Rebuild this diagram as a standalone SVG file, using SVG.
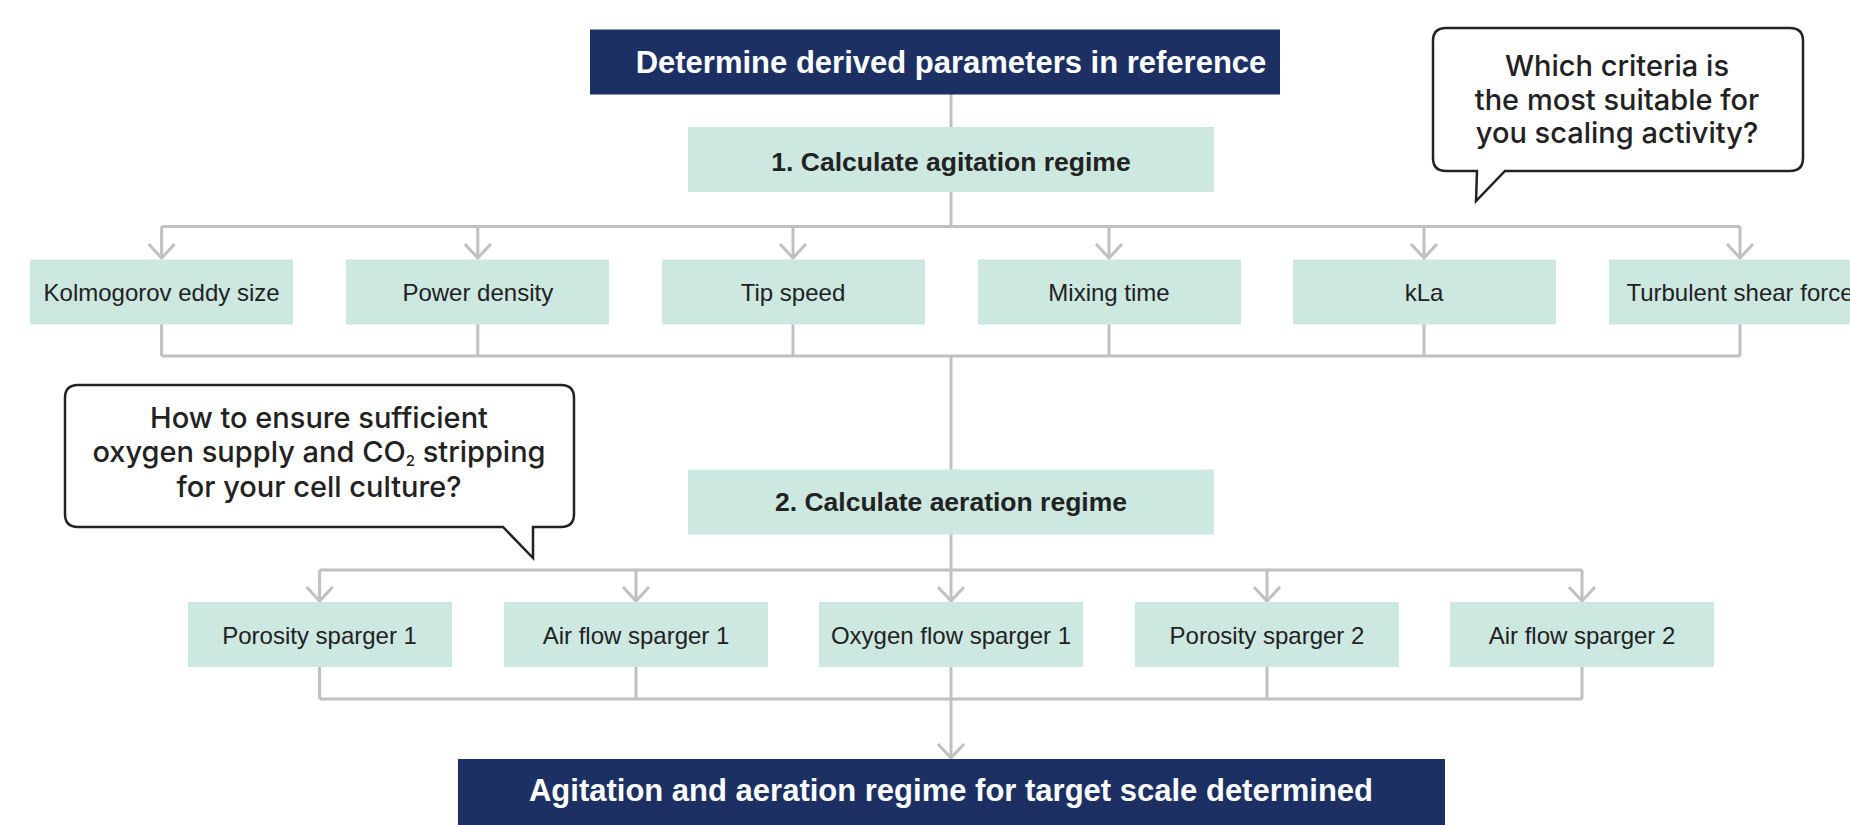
<svg xmlns="http://www.w3.org/2000/svg" width="1850" height="825" viewBox="0 0 1850 825">
<style>
.navy{fill:#1d3064}
.teal{fill:#cde7e1}
.hd{font-family:"Liberation Sans",Arial,sans-serif;font-weight:bold;font-size:31px;fill:#ffffff;text-anchor:middle}
.st{font-family:"Liberation Sans",Arial,sans-serif;font-weight:bold;font-size:26.5px;fill:#222222;text-anchor:middle}
.lb{font-family:"Liberation Sans",Arial,sans-serif;font-size:24px;fill:#222222;text-anchor:middle}
.bt{font-family:Inter,"Liberation Sans",Arial,sans-serif;font-weight:500;font-size:29px;fill:#222222;text-anchor:middle}
.bub{fill:#ffffff;stroke:#222222;stroke-width:2.5;stroke-linejoin:miter}
.cn{fill:none;stroke:#c0c0c0;stroke-width:3}
.ar{fill:none;stroke:#c0c0c0;stroke-width:3;marker-end:url(#chev)}
</style>
<defs>
<marker id="chev" markerUnits="userSpaceOnUse" markerWidth="32" markerHeight="32" viewBox="-16 -16 32 32" refX="0" refY="0" orient="auto">
<path d="M-14,-13 L0,0 L-14,13" fill="none" stroke="#c0c0c0" stroke-width="3"/>
</marker>
</defs>
<rect width="1850" height="825" fill="#ffffff"/>
<g id="connectors">
<path class="cn" d="M951,94 V127"/>
<path class="cn" d="M951,192 V226.5"/>
<path class="cn" d="M161.6,226.5 H1740"/>
<path class="ar" d="M161.6,226.5 V258"/>
<path class="ar" d="M477.8,226.5 V258"/>
<path class="ar" d="M793,226.5 V258"/>
<path class="ar" d="M1109,226.5 V258"/>
<path class="ar" d="M1424,226.5 V258"/>
<path class="ar" d="M1740,226.5 V258"/>
<path class="cn" d="M161.6,324 V356 M477.8,324 V356 M793,324 V356 M1109,324 V356 M1424,324 V356 M1740,324 V356"/>
<path class="cn" d="M161.6,356 H1740"/>
<path class="cn" d="M951,356 V470"/>
<path class="cn" d="M951,534 V570"/>
<path class="cn" d="M319.6,570 H1582"/>
<path class="ar" d="M319.6,570 V601"/>
<path class="ar" d="M636,570 V601"/>
<path class="ar" d="M951,570 V601"/>
<path class="ar" d="M1267,570 V601"/>
<path class="ar" d="M1582,570 V601"/>
<path class="cn" d="M319.6,667 V699 M636,667 V699 M951,667 V699 M1267,667 V699 M1582,667 V699"/>
<path class="cn" d="M319.6,699 H1582"/>
<path class="ar" d="M951,699 V758"/>
</g>
<g id="n-top"><rect class="navy" x="590" y="29.5" width="690" height="65"/><text class="hd" x="951" y="72.5">Determine derived parameters in reference</text></g>
<g id="n-agitation"><rect class="teal" x="688" y="127" width="526" height="65"/><text class="st" x="951" y="171">1. Calculate agitation regime</text></g>
<g id="n-kolmogorov"><rect class="teal" x="30" y="259.5" width="263" height="65"/><text class="lb" x="161.6" y="301">Kolmogorov eddy size</text></g>
<g id="n-power"><rect class="teal" x="346" y="259.5" width="263" height="65"/><text class="lb" x="477.8" y="301">Power density</text></g>
<g id="n-tip"><rect class="teal" x="662" y="259.5" width="263" height="65"/><text class="lb" x="793" y="301">Tip speed</text></g>
<g id="n-mixing"><rect class="teal" x="978" y="259.5" width="263" height="65"/><text class="lb" x="1109" y="301">Mixing time</text></g>
<g id="n-kla"><rect class="teal" x="1293" y="259.5" width="263" height="65"/><text class="lb" x="1424" y="301">kLa</text></g>
<g id="n-turbulent"><rect class="teal" x="1609" y="259.5" width="263" height="65"/><text class="lb" x="1740" y="301">Turbulent shear force</text></g>
<g id="n-aeration"><rect class="teal" x="688" y="469.5" width="526" height="65"/><text class="st" x="951" y="511">2. Calculate aeration regime</text></g>
<g id="n-porosity1"><rect class="teal" x="188" y="602" width="264" height="65"/><text class="lb" x="319.6" y="644">Porosity sparger 1</text></g>
<g id="n-airflow1"><rect class="teal" x="504" y="602" width="264" height="65"/><text class="lb" x="636" y="644">Air flow sparger 1</text></g>
<g id="n-oxygen1"><rect class="teal" x="819" y="602" width="264" height="65"/><text class="lb" x="951" y="644">Oxygen flow sparger 1</text></g>
<g id="n-porosity2"><rect class="teal" x="1135" y="602" width="264" height="65"/><text class="lb" x="1267" y="644">Porosity sparger 2</text></g>
<g id="n-airflow2"><rect class="teal" x="1450" y="602" width="264" height="65"/><text class="lb" x="1582" y="644">Air flow sparger 2</text></g>
<g id="n-bottom"><rect class="navy" x="458" y="759" width="987" height="70"/><text class="hd" x="951" y="801">Agitation and aeration regime for target scale determined</text></g>
<g id="bubble-criteria">
<path class="bub" d="M1446,28 H1790 Q1803,28 1803,41 V158 Q1803,171 1790,171 H1505 L1476,201 L1477,171 H1446 Q1433,171 1433,158 V41 Q1433,28 1446,28 Z"/>
<text class="bt" x="1617" y="76">Which criteria is</text>
<text class="bt" x="1617" y="110">the most suitable for</text>
<text class="bt" x="1617" y="143">you scaling activity?</text>
</g>
<g id="bubble-oxygen">
<path class="bub" d="M78,385 H561 Q574,385 574,398 V514 Q574,527 561,527 H533 L533,558 L503,527 H78 Q65,527 65,514 V398 Q65,385 78,385 Z"/>
<text class="bt" x="319" y="428">How to ensure sufficient</text>
<text class="bt" x="319" y="462">oxygen supply and CO<tspan font-size="15" dy="4">2</tspan><tspan dy="-4"> stripping</tspan></text>
<text class="bt" x="319" y="497">for your cell culture?</text>
</g>
</svg>
